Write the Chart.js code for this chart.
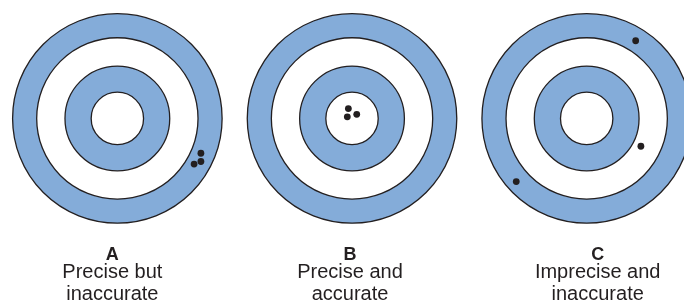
<!DOCTYPE html>
<html>
<head>
<meta charset="utf-8">
<script src="https://cdn.jsdelivr.net/npm/chart.js@4"></script>
<style>
  html, body { margin: 0; padding: 0; background: #ffffff; }
  #wrap { width: 684px; height: 304px; }
</style>
</head>
<body>
<div id="wrap"><canvas id="targets" width="684" height="304"></canvas></div>
<script>
// one unit = radius of the bullseye
const targetLetters = ["A", "B", "C"];
const targetCaptions = [
    ["Precise but", "inaccurate"],
    ["Precise and", "accurate"],
    ["Imprecise and", "inaccurate"]
];
const targetCenters = [0, 8.96, 17.92];
const ringRadii = [4, 3.08, 2, 1];
const ringFills = ["#84acd9", "#ffffff", "#84acd9", "#ffffff"];

// shots, relative to each target's centre
const shotsA = [{ x: 3.19, y: -1.35 }, { x: 3.19, y: -1.67 }, { x: 2.93, y: -1.77 }];
const shotsB = [{ x: -0.14, y: 0.38 }, { x: 0.18, y: 0.16 }, { x: -0.18, y: 0.06 }];
const shotsC = [{ x: 1.87, y: 3.01 }, { x: 2.07, y: -1.08 }, { x: -2.69, y: -2.45 }];

const INK = "#231f20";

function unitsToPx(chart, r) {
    const s = chart.scales.x;
    return s.getPixelForValue(r) - s.getPixelForValue(0);
}

const ringDatasets = ringRadii.map((r, i) => ({
    label: "ring " + (i + 1),
    data: targetCenters.map(cx => ({ x: cx, y: 0 })),
    pointRadius: ctx => unitsToPx(ctx.chart, r),
    pointBackgroundColor: ringFills[i],
    pointBorderColor: INK,
    pointBorderWidth: 1.3,
    showLine: false,
    clip: false,
    order: 10 - i
}));

const allShots = [shotsA, shotsB, shotsC].flatMap((shots, t) =>
    shots.map(p => ({ x: targetCenters[t] + p.x, y: p.y }))
);

const shotDataset = {
    label: "shots",
    data: allShots,
    pointRadius: 3.4,
    pointBackgroundColor: INK,
    pointBorderColor: INK,
    pointBorderWidth: 0,
    clip: false,
    order: 0
};

const captionPlugin = {
    id: "captions",
    afterDraw(chart) {
        const c = chart.ctx;
        const shift = [-5, -2, 11];
        c.save();
        c.fillStyle = INK;
        c.textAlign = "center";
        c.textBaseline = "alphabetic";
        targetLetters.forEach((letter, i) => {
            const x = chart.scales.x.getPixelForValue(targetCenters[i]) + shift[i];
            c.font = "bold 18px 'Liberation Sans', Arial, sans-serif";
            c.fillText(letter, x, 260);
            c.font = "20px 'Liberation Sans', Arial, sans-serif";
            c.fillText(targetCaptions[i][0], x, 278);
            c.fillText(targetCaptions[i][1], x, 300);
        });
        c.restore();
    }
};

const ppu = 26.5;
new Chart(document.getElementById("targets"), {
    type: "scatter",
    data: { datasets: [...ringDatasets, shotDataset] },
    options: {
        responsive: false,
        animation: false,
        events: [],
        layout: { padding: 0 },
        plugins: { legend: { display: false }, tooltip: { enabled: false } },
        scales: {
            x: { display: false, min: -114.7 / ppu, max: (684 - 114.7) / ppu },
            y: { display: false, min: 117.5 / ppu - 304 / ppu, max: 117.5 / ppu }
        }
    },
    plugins: [captionPlugin]
});
</script>
</body>
</html>
